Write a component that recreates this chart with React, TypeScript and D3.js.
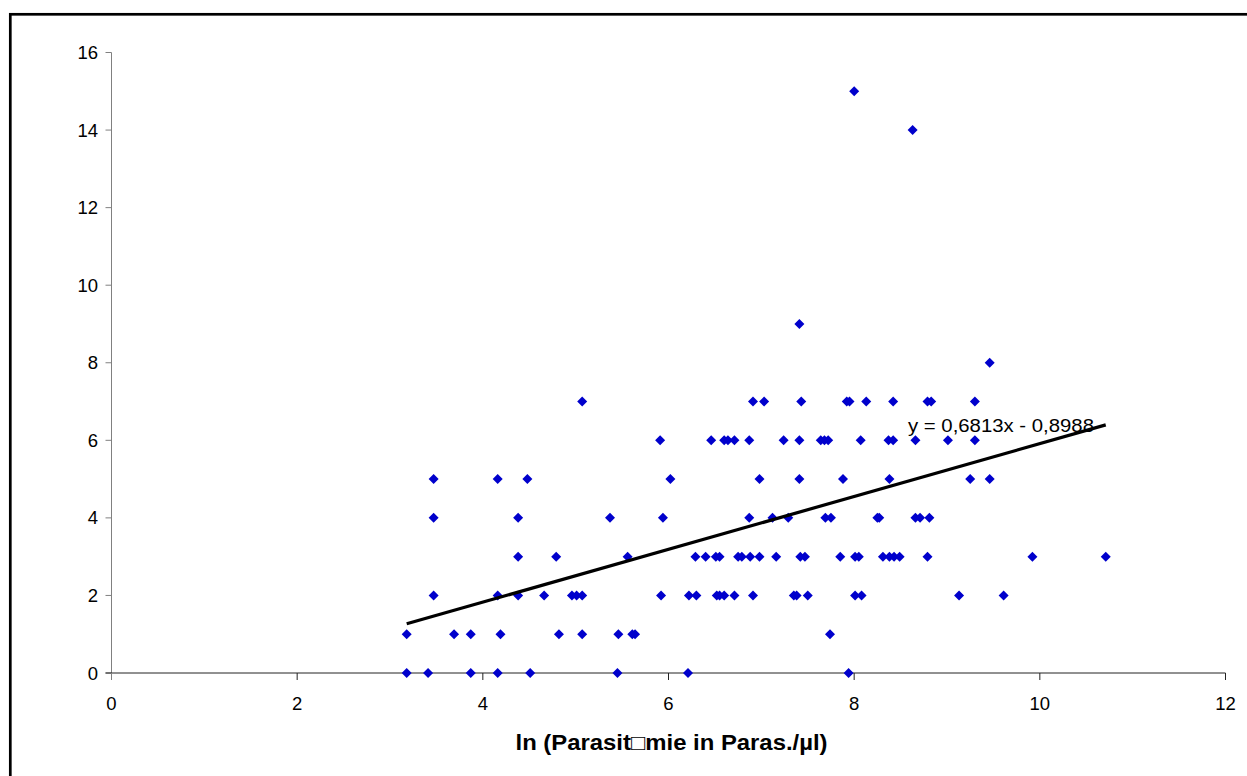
import React from 'react';
import * as d3 from 'd3';

// Tick values
const xTicks = [0, 2, 4, 6, 8, 10, 12];
const yTicks = [0, 2, 4, 6, 8, 10, 12, 14, 16];

// Trendline (as printed on the chart)
const slope = 0.6813;
const intercept = -0.8988;
const trendLabel = 'y = 0,6813x - 0,8988';
const xTitle = 'ln (Parasit\u25A1mie in Paras./\u00B5l)';

// ln(parasitaemia) values grouped by their y value
const xAtY0 = [3.18, 3.41, 3.87, 4.16, 4.51, 5.45, 6.21, 7.94];
const xAtY1 = [3.18, 3.69, 3.87, 4.19, 4.82, 5.07, 5.46, 5.61, 5.64, 7.74];
const xAtY2 = [3.47, 4.16, 4.38, 4.66, 4.96, 5.01, 5.07, 5.92, 6.22, 6.3, 6.52, 6.55, 6.6, 6.71, 6.91, 7.35, 7.38, 7.5, 8.01, 8.08, 9.13, 9.61];
const xAtY3 = [4.38, 4.79, 5.56, 6.29, 6.4, 6.51, 6.55, 6.75, 6.79, 6.88, 6.98, 7.16, 7.42, 7.47, 7.85, 8.01, 8.05, 8.31, 8.38, 8.43, 8.49, 8.79, 9.92, 10.71];
const xAtY4 = [3.47, 4.38, 5.37, 5.94, 6.87, 7.12, 7.29, 7.69, 7.75, 8.25, 8.27, 8.66, 8.71, 8.81];
const xAtY5 = [3.47, 4.16, 4.48, 6.02, 6.98, 7.41, 7.88, 8.38, 9.25, 9.46];
const xAtY6 = [5.91, 6.46, 6.6, 6.64, 6.71, 6.87, 7.24, 7.41, 7.64, 7.68, 7.72, 8.07, 8.37, 8.42, 8.66, 9.01, 9.3];
const xAtY7 = [5.07, 6.91, 7.03, 7.43, 7.92, 7.95, 8.13, 8.42, 8.79, 8.83, 9.3];
const xAtY8 = [9.46];
const xAtY9 = [7.41];
const xAtY14 = [8.63];
const xAtY15 = [8.0];

const groups: [number, number[]][] = [
  [0, xAtY0], [1, xAtY1], [2, xAtY2], [3, xAtY3], [4, xAtY4], [5, xAtY5],
  [6, xAtY6], [7, xAtY7], [8, xAtY8], [9, xAtY9], [14, xAtY14], [15, xAtY15],
];

const points = groups.flatMap(([yv, xs]) => xs.map((xv) => ({ x: xv, y: yv })));

export default function App() {
  const W = 1247;
  const H = 776;
  const x = d3.scaleLinear().domain([0, 12]).range([111.5, 1225.5]);
  const y = d3.scaleLinear().domain([0, 16]).range([673, 52.5]);
  const diamond = d3.symbol(d3.symbolSquare, 50)() as string;
  const [xmin, xmax] = d3.extent(points, (d) => d.x) as [number, number];
  const trend = d3.line<number>().x((v) => x(v)).y((v) => y(slope * v + intercept))([xmin, xmax]) as string;
  const font = 'Arial, "Liberation Sans", sans-serif';

  return (
    <svg width={W} height={H} style={{ position: 'absolute', left: 0, top: 0, background: '#fff' }} fontFamily={font}>
      <rect x={0} y={0} width={W} height={H} fill="#fff" />
      <rect x={10.3} y={14.3} width={W + 20} height={H + 20} fill="none" stroke="#000" strokeWidth={2.7} />

      {/* y axis */}
      <line x1={x(0)} x2={x(0)} y1={y(16)} y2={y(0) + 7} stroke="#808080" strokeWidth={1} />
      {yTicks.map((t) => (
        <g key={'y' + t}>
          <line x1={x(0) - 6} x2={x(0)} y1={y(t)} y2={y(t)} stroke="#808080" strokeWidth={1} />
          <text x={98} y={y(t) + 6.5} textAnchor="end" fontSize={18.5} fill="#000">{t}</text>
        </g>
      ))}

      {/* x axis */}
      <line x1={x(0) - 6} x2={x(12)} y1={y(0)} y2={y(0)} stroke="#222" strokeWidth={1} />
      {xTicks.map((t) => (
        <g key={'x' + t}>
          <line x1={x(t)} x2={x(t)} y1={y(0)} y2={y(0) + 7} stroke={t === 0 ? '#808080' : '#222'} strokeWidth={1} />
          <text x={x(t)} y={710} textAnchor="middle" fontSize={18.5} fill="#000">{t}</text>
        </g>
      ))}

      {/* points */}
      {points.map((p, i) => (
        <path key={i} d={diamond} transform={`translate(${x(p.x)},${y(p.y)}) rotate(45)`} fill="#0000cc" />
      ))}

      {/* trendline */}
      <path d={trend} fill="none" stroke="#000" strokeWidth={3.2} />
      <text x={908} y={432} fontSize={18} textLength={186} lengthAdjust="spacingAndGlyphs" fill="#000">{trendLabel}</text>

      {/* x title */}
      <text x={671.5} y={750} textAnchor="middle" fontSize={22} fontWeight="bold" textLength={312} lengthAdjust="spacingAndGlyphs" fill="#000">{xTitle}</text>
    </svg>
  );
}
